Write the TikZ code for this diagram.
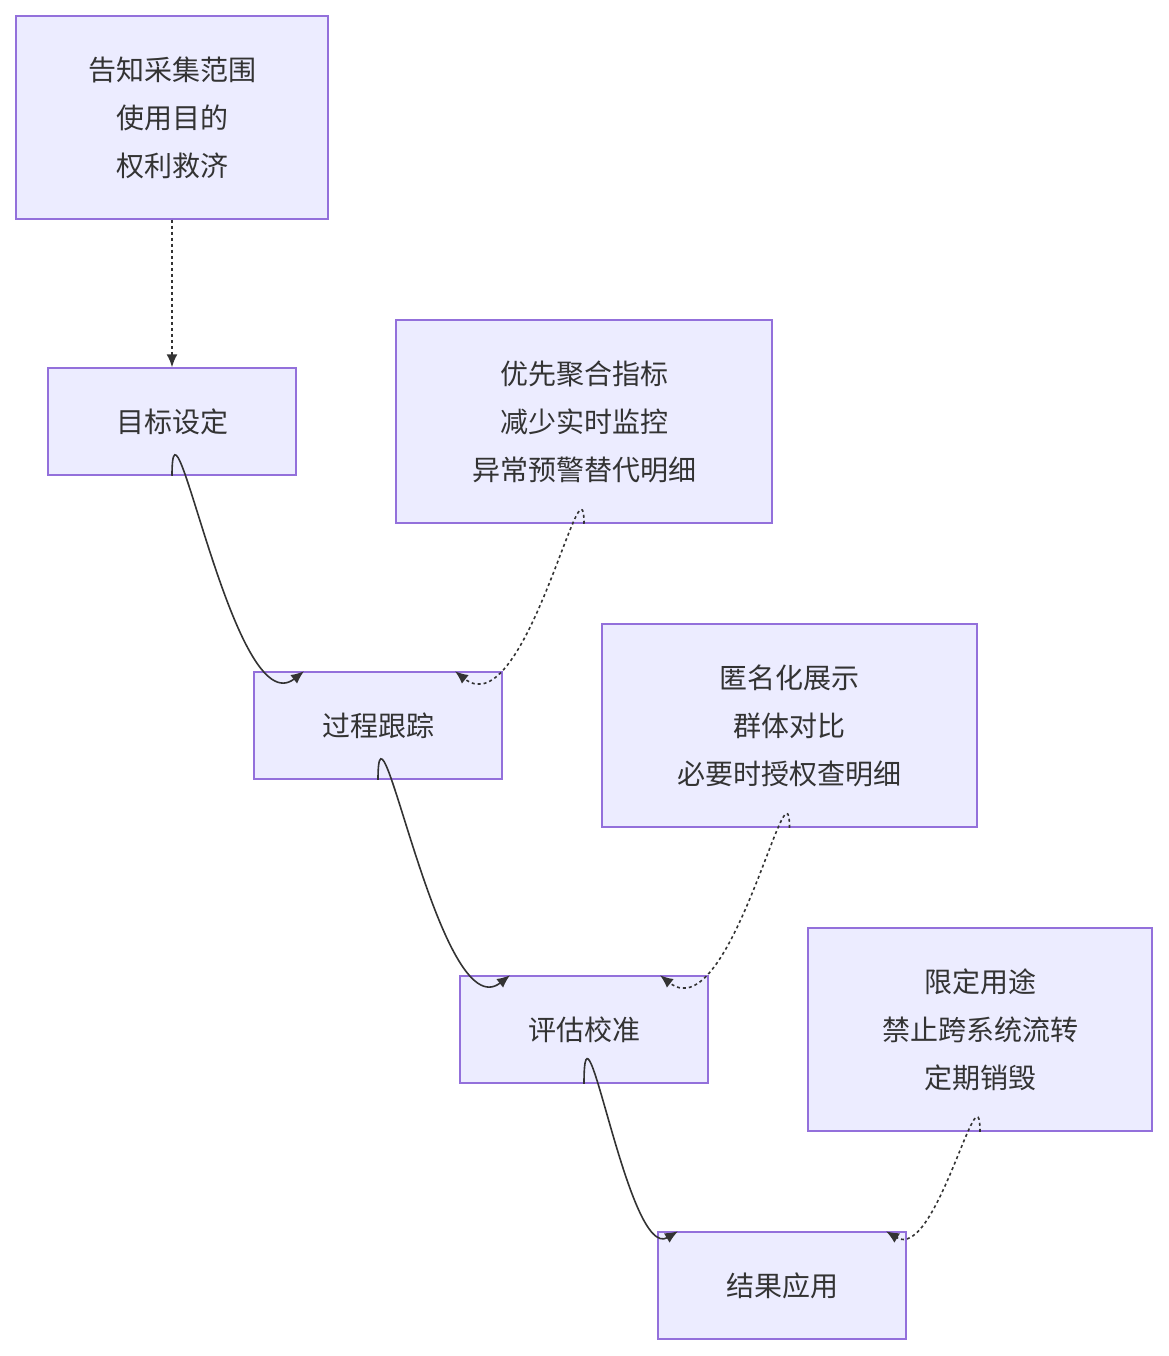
\documentclass[tikz,border=0pt]{standalone}
\usepackage{fontspec}
\setmainfont{Noto Sans CJK SC}
\usetikzlibrary{arrows.meta}
\definecolor{boxfill}{HTML}{ECECFF}
\definecolor{boxline}{HTML}{9370DB}
\definecolor{edge}{HTML}{333333}
\begin{document}
\begin{tikzpicture}[x=1pt,y=-1pt,
  box/.style={draw=boxline,fill=boxfill,line width=1.5pt,align=center,font=\fontsize{28}{48}\selectfont,text=edge,inner sep=0pt},
  flow/.style={draw=edge,line width=1.6pt,-{Latex[length=13pt,width=11pt]}},
  dot/.style={flow,dash pattern=on 3pt off 3pt}]
\useasboundingbox (0,0) rectangle (1168,1356);
\node[box,minimum width=312pt,minimum height=203pt] (a) at (172,117.5) {告知采集范围\\使用目的\\权利救济};
\node[box,minimum width=248pt,minimum height=107pt] (b) at (172,421.5) {目标设定};
\node[box,minimum width=376pt,minimum height=203pt] (c) at (584,421.5) {优先聚合指标\\减少实时监控\\异常预警替代明细};
\node[box,minimum width=248pt,minimum height=107pt] (d) at (378,725.5) {过程跟踪};
\node[box,minimum width=375pt,minimum height=203pt] (e) at (789.5,725.5) {匿名化展示\\群体对比\\必要时授权查明细};
\node[box,minimum width=248pt,minimum height=107pt] (f) at (584,1029.5) {评估校准};
\node[box,minimum width=344pt,minimum height=203pt] (g) at (980,1029.5) {限定用途\\禁止跨系统流转\\定期销毁};
\node[box,minimum width=248pt,minimum height=107pt] (h) at (782,1285.5) {结果应用};
\draw[dot] (a.south) -- (b.north);
\draw[flow] (b.south) .. controls +(0,-110) and +(-70,55) .. ([xshift=-74pt]d.north);
\draw[dot] (c.south) .. controls +(0,-80) and +(70,55) .. ([xshift=77pt]d.north);
\draw[flow] (d.south) .. controls +(0,-110) and +(-70,55) .. ([xshift=-74pt]f.north);
\draw[dot] (e.south) .. controls +(0,-80) and +(70,55) .. ([xshift=76pt]f.north);
\draw[flow] (f.south) .. controls +(0,-110) and +(-50,30) .. ([xshift=-104pt]h.north);
\draw[dot] (g.south) .. controls +(0,-70) and +(50,30) .. ([xshift=104pt]h.north);
\end{tikzpicture}
\end{document}
